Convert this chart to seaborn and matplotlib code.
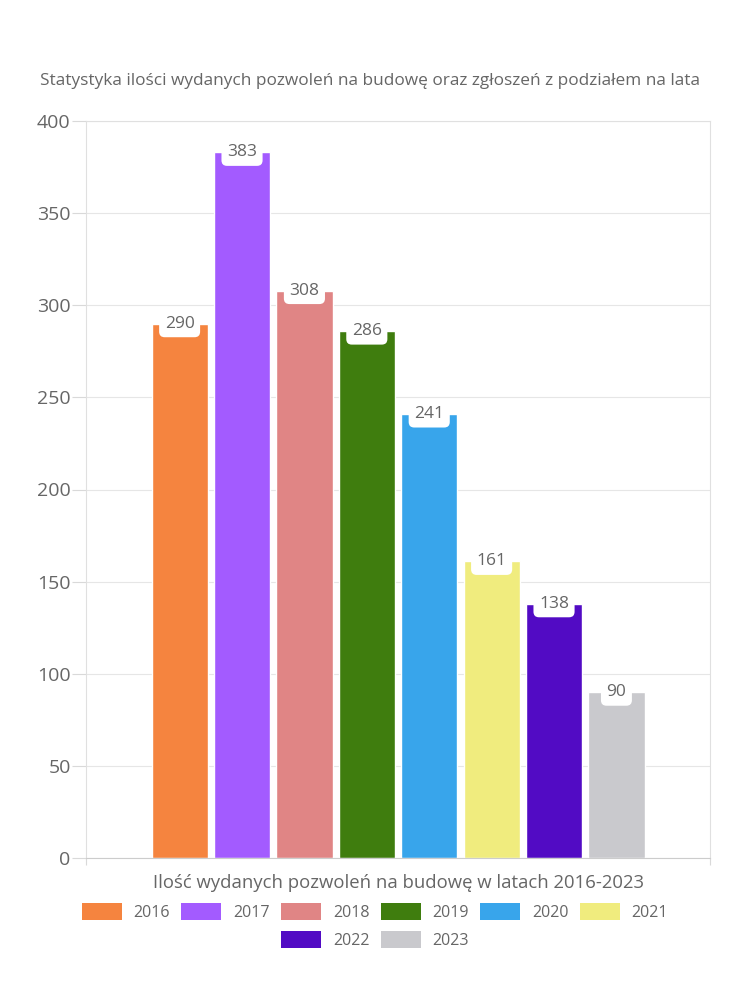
import matplotlib
matplotlib.use("Agg")
import matplotlib.pyplot as plt
import seaborn as sns
import pandas as pd
from matplotlib.patches import Patch

years = ["2016", "2017", "2018", "2019", "2020", "2021", "2022", "2023"]
values = [290, 383, 308, 286, 241, 161, 138, 90]
colors = ["#F5843F", "#A35BFF", "#E08585", "#3F7D0E", "#38A5EB", "#F0EC7E", "#520BC4", "#C9C9CD"]
category = "Ilość wydanych pozwoleń na budowę w latach 2016-2023"
title = "Statystyka ilości wydanych pozwoleń na budowę oraz zgłoszeń z podziałem na lata"
yticks = [0, 50, 100, 150, 200, 250, 300, 350, 400]

sns.set_theme(style="white")
plt.rcParams["font.family"] = ["Open Sans", "DejaVu Sans"]
txt = "#666666"

df = pd.DataFrame({"cat": [category] * len(years), "year": years, "value": values})

fig = plt.figure(figsize=(7.5, 10), dpi=100)
ax = fig.add_axes([0.1147, 0.142, 0.832, 0.737])

sns.barplot(data=df, x="cat", y="value", hue="year", hue_order=years,
            palette=colors, width=0.8, gap=0.1, saturation=1, ax=ax,
            legend=False, zorder=2)

ax.set_ylim(0, 400)
ax.set_xlim(-0.5, 0.5)
ax.set_yticks(yticks)
ax.set_yticklabels([str(v) for v in yticks], color=txt, fontsize=14)
ax.grid(axis="y", color="#e6e6e6", linewidth=0.8, zorder=0)
ax.set_xticks([-0.5, 0.5])
ax.set_xticklabels([])
ax.tick_params(axis="x", length=5, color="#d9d9d9", width=0.8, bottom=True)
ax.tick_params(axis="y", length=10, color="#d9d9d9", width=0.8, left=True, pad=1)
for s in ["left", "right", "bottom", "top"]:
    ax.spines[s].set_color("#e0e0e0")
    ax.spines[s].set_linewidth(0.8)
ax.spines["bottom"].set_color("#cccccc")
ax.set_ylabel("")
ax.set_xlabel(category, color=txt, fontsize=13.3, labelpad=3)

for cont, v in zip(ax.containers, values):
    for p in cont:
        ax.text(p.get_x() + p.get_width() / 2, v, str(v), ha="center", va="center",
                color=txt, fontsize=12.5, zorder=5,
                bbox=dict(boxstyle="round,pad=0.32", fc="white", ec="none"))

fig.text(0.053, 0.919, title, color=txt, fontsize=12.4, ha="left", va="center")

handles = [Patch(facecolor=c, edgecolor="none") for c in colors]
kw = dict(loc="center", frameon=False, fontsize=11.5, handlelength=2.5, handleheight=1.2,
          columnspacing=0.7, handletextpad=0.75, labelcolor=txt)
leg1 = fig.legend(handles[:6], years[:6], bbox_to_anchor=(0.5, 0.088), ncol=6, **kw)
leg2 = fig.legend(handles[6:], years[6:], bbox_to_anchor=(0.5, 0.060), ncol=2, **kw)

fig.savefig("out.png", dpi=100, facecolor="white")
